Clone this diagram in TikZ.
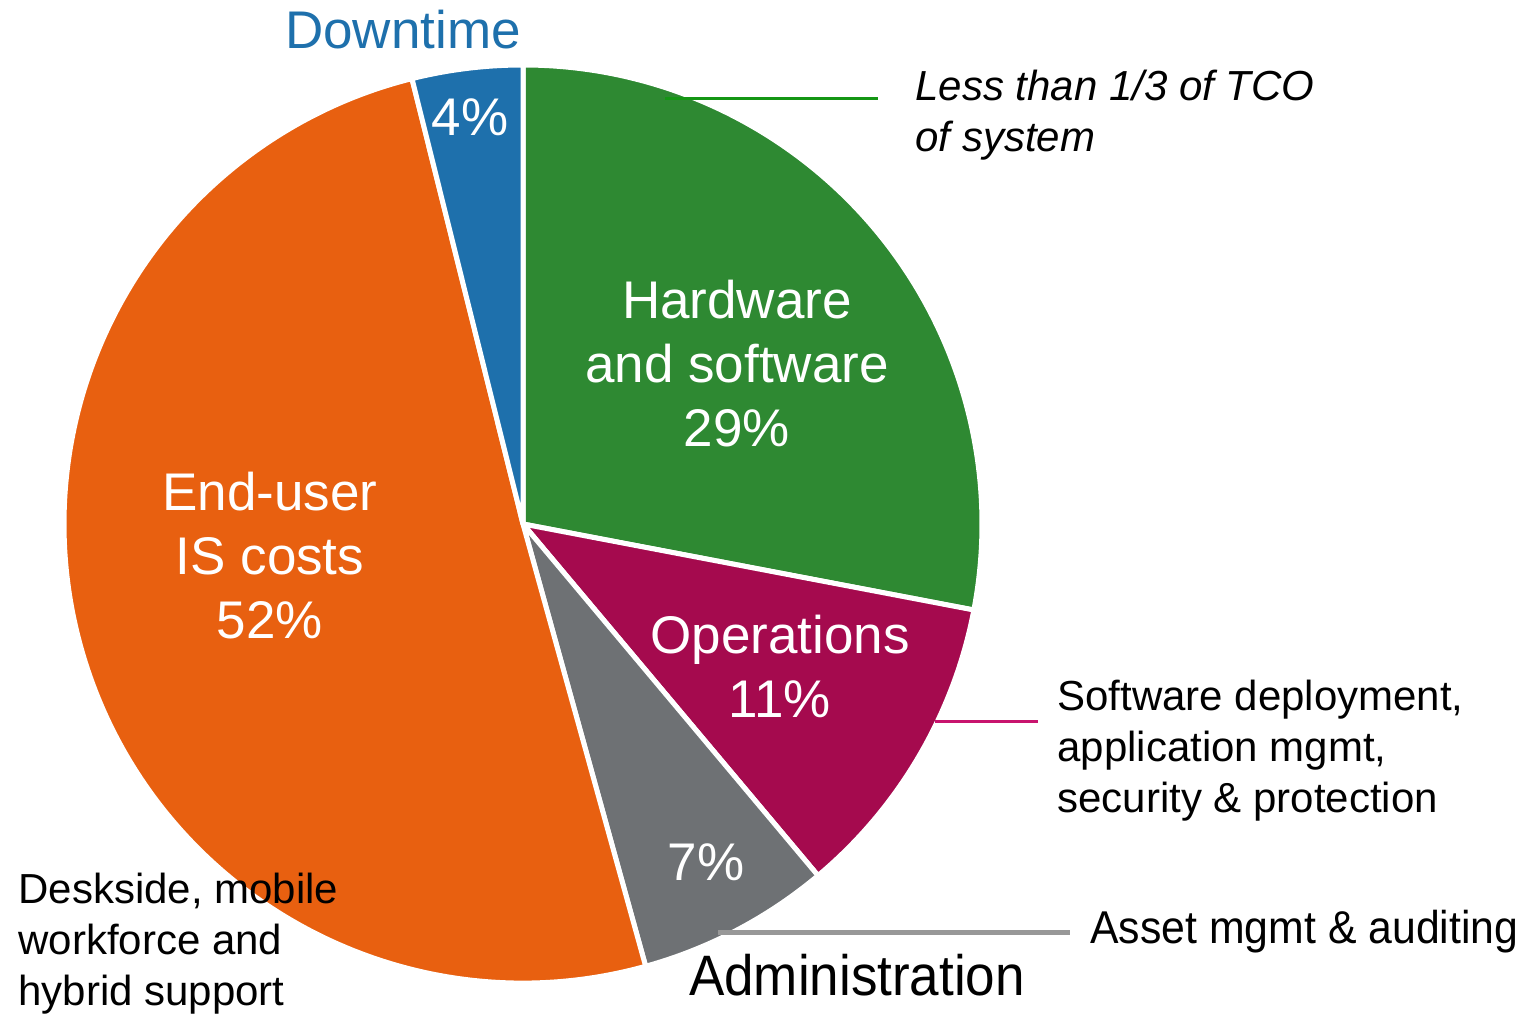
\documentclass[tikz,border=0pt]{standalone}
\usepackage{fontspec}
\setmainfont{Liberation Sans}
\newfontfamily\narrowsf[FakeStretch=0.93]{Liberation Sans}
\usetikzlibrary{positioning}
\definecolor{hwgreen}{RGB}{46,137,50}
\definecolor{dtblue}{RGB}{30,112,172}
\definecolor{euorange}{RGB}{232,96,16}
\definecolor{opmagenta}{RGB}{165,10,78}
\definecolor{adgray}{RGB}{110,113,116}
\definecolor{tcogreen}{RGB}{20,150,20}
\definecolor{swmagenta}{RGB}{200,20,110}
\definecolor{assetgray}{RGB}{152,152,152}

\begin{document}
\begin{tikzpicture}[x=0.5pt,y=0.5pt,
slice/.style={draw=white, line width=2.5pt, line join=round},
pielabel/.style={text=white, align=center, inner sep=0pt, font=\fontsize{26.5}{32}\selectfont},
note/.style={align=left, inner sep=0pt, anchor=north west, font=\fontsize{21}{25.5}\selectfont},
leader/.style={line width=1.5pt}]
\useasboundingbox (0,0) rectangle (1532,1013);
\coordinate (c) at (523,489);
% slices, clockwise from the top
\filldraw[fill=hwgreen, slice] (c) -- ++(90:459) arc[start angle=90, end angle=-10.8, radius=459] -- cycle;
\filldraw[fill=opmagenta, slice] (c) -- ++(-10.8:459) arc[start angle=-10.8, end angle=-50, radius=459] -- cycle;
\filldraw[fill=adgray, slice] (c) -- ++(-50:459) arc[start angle=-50, end angle=-74.5, radius=459] -- cycle;
\filldraw[fill=euorange, slice] (c) -- ++(-74.5:459) arc[start angle=-74.5, end angle=-256, radius=459] -- cycle;
\filldraw[fill=dtblue, slice] (c) -- ++(104:459) arc[start angle=104, end angle=90, radius=459] -- cycle;

\node (hw) at (737,649) [pielabel] {Hardware\\and software\\29\%};
\node (eu) at (270,457) [pielabel] {End-user\\IS costs\\52\%};
\node (op) at (780,347) [pielabel] {Operations\\11\%};
\node (ad) at (706,151) [pielabel] {7\%};
\node (dt) at (470,896) [pielabel] {4\%};
\node (dtname) at (403,983) [pielabel, text=dtblue] {Downtime};
\node (adname) at (857,38) [inner sep=0pt, font=\narrowsf\fontsize{28.5}{32}\selectfont] {Administration};

\begin{scope}[every node/.style={note}]
\node (tco) at (915,943) {\itshape Less than 1/3 of TCO\\\itshape of system};
\node (sw) at (1057,333) {Software deployment,\\application mgmt,\\security \& protection};
\node (desk) at (18,140) {Deskside, mobile\\workforce and\\hybrid support};
\node (asset) at (1090,81) [anchor=west, font=\narrowsf\fontsize{23}{26}\selectfont] {Asset mgmt \& auditing};
\end{scope}

\coordinate (tcoa) at (665,914);
\coordinate (tcob) at (878,914);
\coordinate (swa) at (935,291);
\coordinate (swb) at (1038,291);
\coordinate (asseta) at (718,81);
\coordinate (assetb) at (1070,81);
\draw[leader, tcogreen] (tcoa) -- (tcob);
\draw[leader, swmagenta] (swa) -- (swb);
\draw[leader, assetgray, line width=2.5pt] (asseta) -- (assetb);
\end{tikzpicture}
\end{document}
